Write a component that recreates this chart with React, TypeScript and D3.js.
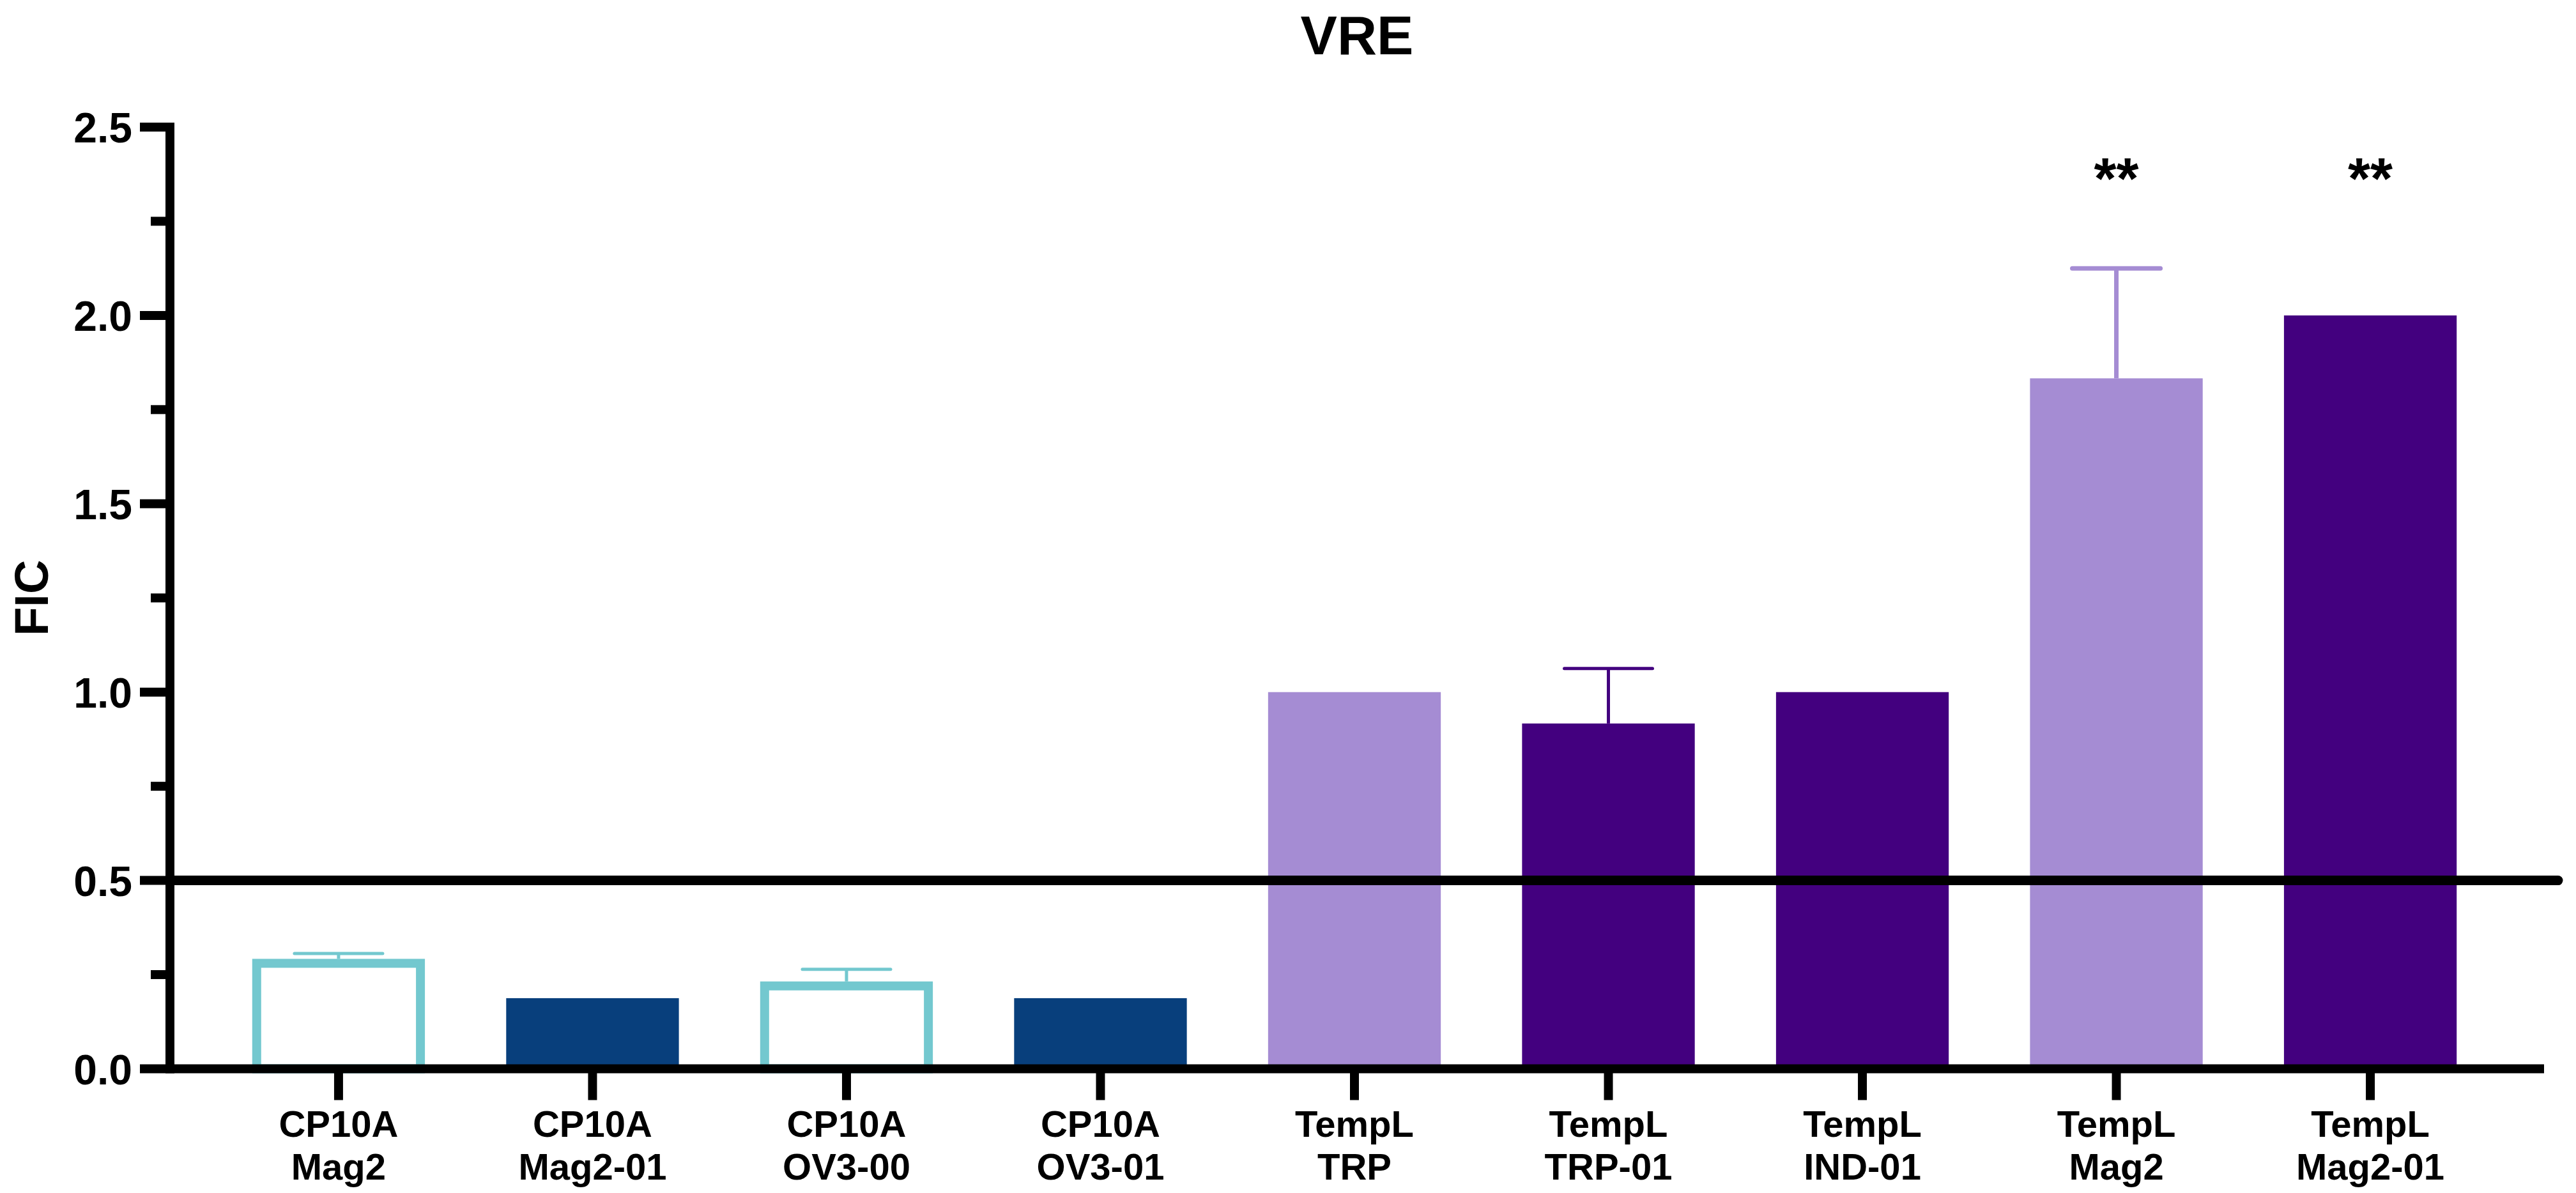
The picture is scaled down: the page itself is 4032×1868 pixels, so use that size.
import * as d3 from 'd3';

// ---- Data ---------------------------------------------------------------
const CATEGORY_TOP = ['CP10A', 'CP10A', 'CP10A', 'CP10A', 'TempL', 'TempL', 'TempL', 'TempL', 'TempL'];
const CATEGORY_BOTTOM = ['Mag2', 'Mag2-01', 'OV3-00', 'OV3-01', 'TRP', 'TRP-01', 'IND-01', 'Mag2', 'Mag2-01'];
const FIC_MEAN = [0.28, 0.1875, 0.22, 0.1875, 1.0, 0.9167, 1.0, 1.833, 2.0];
const FIC_SD = [0.026, 0, 0.044, 0, 0, 0.146, 0, 0.292, 0];
const SIGNIFICANCE = ['', '', '', '', '', '', '', '**', '**'];
const Y_TICKS = [0, 0.5, 1.0, 1.5, 2.0, 2.5];
const Y_MINOR_TICKS = [0.25, 0.75, 1.25, 1.75, 2.25];
const THRESHOLD = 0.5;

// ---- Styling --------------------------------------------------------------
const CYAN = '#73C8CF';
const NAVY = '#083F7C';
const LILAC = '#A58CD3';
const PURPLE = '#43007F';
// per-bar look: outline (open bar) or solid fill
const BAR_LOOK = [
  { fill: '#ffffff', stroke: CYAN, outline: true, errW: 5 },
  { fill: NAVY, stroke: NAVY, outline: false, errW: 5 },
  { fill: '#ffffff', stroke: CYAN, outline: true, errW: 5 },
  { fill: NAVY, stroke: NAVY, outline: false, errW: 5 },
  { fill: LILAC, stroke: LILAC, outline: false, errW: 7 },
  { fill: PURPLE, stroke: PURPLE, outline: false, errW: 5 },
  { fill: PURPLE, stroke: PURPLE, outline: false, errW: 5 },
  { fill: LILAC, stroke: LILAC, outline: false, errW: 7 },
  { fill: PURPLE, stroke: PURPLE, outline: false, errW: 5 },
];

const W = 4032;
const H = 1868;
const AXIS_X = 266;
const AXIS_END = 3982;
const LINE_W = 14;
const FONT = '"Liberation Sans", Arial, Helvetica, sans-serif';

export default function App() {
  const idx = d3.range(FIC_MEAN.length).map(String);
  const x = d3.scaleBand<string>().domain(idx).range([262, 3978]).paddingInner(0.32).paddingOuter(0.334);
  const y = d3.scaleLinear().domain([0, 2.5]).range([1673.5, 199]);
  const bw = x.bandwidth();
  const capW = 138;

  return (
    <div>
      <style>{'body{margin:0;background:#fff}'}</style>
      <svg width={W} height={H} viewBox={`0 0 ${W} ${H}`} style={{ display: 'block' }} fontFamily={FONT}>
        <rect width={W} height={H} fill="#fff" />

        {/* title */}
        <text x={(AXIS_X + AXIS_END) / 2} y={85} textAnchor="middle" fontSize={86} fontWeight="bold">
          VRE
        </text>

        {/* bars */}
        {FIC_MEAN.map((v, i) => {
          const look = BAR_LOOK[i];
          const x0 = x(String(i)) ?? 0;
          if (look.outline) {
            return (
              <rect
                key={'b' + i}
                x={x0 + LINE_W / 2}
                y={y(v)}
                width={bw - LINE_W}
                height={y(0) - y(v)}
                fill={look.fill}
                stroke={look.stroke}
                strokeWidth={LINE_W}
              />
            );
          }
          return <rect key={'b' + i} x={x0} y={y(v)} width={bw} height={y(0) - y(v)} fill={look.fill} />;
        })}

        {/* error bars (upper only) */}
        {FIC_MEAN.map((v, i) => {
          const sd = FIC_SD[i];
          if (!sd) return null;
          const look = BAR_LOOK[i];
          const cx = (x(String(i)) ?? 0) + bw / 2;
          const top = y(v + sd);
          return (
            <g key={'e' + i} stroke={look.stroke} strokeWidth={look.errW}>
              <line x1={cx} x2={cx} y1={y(v) - (look.outline ? LINE_W / 2 : 0)} y2={top} />
              <line x1={cx - capW / 2} x2={cx + capW / 2} y1={top} y2={top} strokeLinecap="round" />
            </g>
          );
        })}

        {/* significance */}
        {SIGNIFICANCE.map((s, i) =>
          s ? (
            <text
              key={'s' + i}
              x={(x(String(i)) ?? 0) + bw / 2}
              y={311}
              textAnchor="middle"
              fontSize={90}
              fontWeight="bold"
            >
              {s}
            </text>
          ) : null
        )}

        {/* threshold line */}
        <line
          x1={AXIS_X}
          x2={4004}
          y1={y(THRESHOLD)}
          y2={y(THRESHOLD)}
          stroke="#000"
          strokeWidth={15}
          strokeLinecap="round"
        />

        {/* y axis */}
        <line x1={AXIS_X} x2={AXIS_X} y1={y(2.5) - LINE_W / 2} y2={y(0) + LINE_W / 2} stroke="#000" strokeWidth={LINE_W} />
        {Y_TICKS.map((t) => (
          <g key={'yt' + t}>
            <line x1={219} x2={AXIS_X} y1={y(t)} y2={y(t)} stroke="#000" strokeWidth={LINE_W} />
            <text x={207} y={y(t) + 24} textAnchor="end" fontSize={66} fontWeight="bold">
              {t.toFixed(1)}
            </text>
          </g>
        ))}
        {Y_MINOR_TICKS.map((t) => (
          <line key={'ym' + t} x1={236} x2={AXIS_X} y1={y(t)} y2={y(t)} stroke="#000" strokeWidth={LINE_W} />
        ))}
        <text
          transform={`translate(75, ${(y(0) + y(2.5)) / 2}) rotate(-90)`}
          textAnchor="middle"
          fontSize={74}
          fontWeight="bold"
        >
          FIC
        </text>

        {/* x axis */}
        <line x1={AXIS_X} x2={AXIS_END} y1={y(0)} y2={y(0)} stroke="#000" strokeWidth={LINE_W} />
        {idx.map((k, i) => {
          const cx = (x(k) ?? 0) + bw / 2;
          return (
            <g key={'xt' + k}>
              <line x1={cx} x2={cx} y1={y(0)} y2={y(0) + 49} stroke="#000" strokeWidth={LINE_W} />
              <text x={cx} y={1780} textAnchor="middle" fontSize={58} fontWeight="bold">
                {CATEGORY_TOP[i]}
              </text>
              <text x={cx} y={1847} textAnchor="middle" fontSize={58} fontWeight="bold">
                {CATEGORY_BOTTOM[i]}
              </text>
            </g>
          );
        })}
      </svg>
    </div>
  );
}
